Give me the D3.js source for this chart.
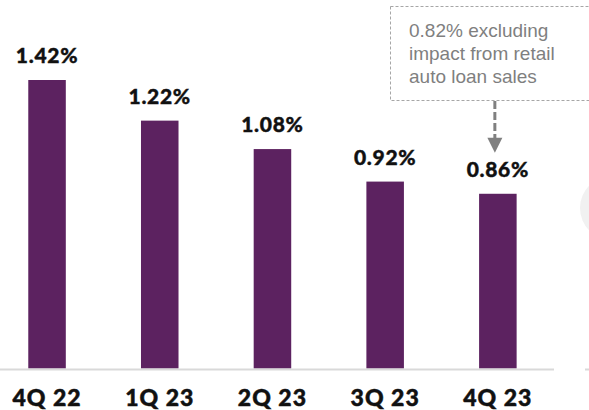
<!DOCTYPE html>
<html>
<head>
<meta charset="utf-8">
<script src="https://cdn.jsdelivr.net/npm/d3@7"></script>
<style>
  html, body { margin: 0; padding: 0; background: #fff; }
  svg { display: block; }
</style>
</head>
<body>
<svg id="chart" width="589" height="410"></svg>
<script>
// Quarterly ratio values
const quarters = ["4Q 22", "1Q 23", "2Q 23", "3Q 23", "4Q 23"];
const values = [1.42, 1.22, 1.08, 0.92, 0.86];
const valueLabels = ["1.42%", "1.22%", "1.08%", "0.92%", "0.86%"];
const noteLines = ["0.82% excluding", "impact from retail", "auto loan sales"];
const noteQuarter = "4Q 23";

const baseY = 368.5;

const svg = d3.select("#chart");

const x = d3.scaleBand()
  .domain(quarters)
  .range([0.1, 544.8])
  .paddingInner(0.667)
  .paddingOuter(0.25);

const y = d3.scaleLinear()
  .domain([0, 1.42])
  .range([baseY, 80]);

// faint decoration at the right edge
svg.append("circle")
  .attr("cx", 612).attr("cy", 208).attr("r", 32)
  .attr("fill", "#f1f1f1");

// bars
svg.selectAll("rect.bar")
  .data(values)
  .join("rect")
  .attr("class", "bar")
  .attr("x", (d, i) => x(quarters[i]))
  .attr("width", x.bandwidth())
  .attr("y", d => y(d))
  .attr("height", d => y(0) - y(d))
  .attr("fill", "#5c2260");

// baseline
svg.append("line")
  .attr("x1", 0).attr("x2", 554)
  .attr("y1", y(0) + 1).attr("y2", y(0) + 1)
  .attr("stroke", "#d9d9d9").attr("stroke-width", 2);
svg.append("line")
  .attr("x1", 585).attr("x2", 592)
  .attr("y1", y(0) + 1).attr("y2", y(0) + 1)
  .attr("stroke", "#d9d9d9").attr("stroke-width", 2);

// category axis
const axis = svg.append("g")
  .attr("transform", `translate(0,${y(0)})`)
  .call(d3.axisBottom(x).tickSize(0));
axis.select(".domain").remove();
axis.selectAll("text")
  .attr("y", 37)
  .attr("dy", 0)
  .attr("fill", "#111")
  .attr("stroke", "#111")
  .attr("stroke-width", 0.5)
  .style("font-family", "Lato, 'Open Sans', sans-serif")
  .style("font-weight", 900)
  .style("font-size", "23px")
  .style("letter-spacing", "1px");

// value labels
svg.selectAll("text.val")
  .data(values)
  .join("text")
  .attr("class", "val")
  .attr("x", (d, i) => x(quarters[i]) + x.bandwidth() / 2)
  .attr("y", d => y(d) - 17)
  .attr("text-anchor", "middle")
  .attr("fill", "#111")
  .attr("stroke", "#111")
  .attr("stroke-width", 0.4)
  .style("font-family", "Lato, 'Open Sans', sans-serif")
  .style("font-weight", 900)
  .style("font-size", "21px")
  .style("letter-spacing", "0.7px")
  .text((d, i) => valueLabels[i]);

// note box with dashed border
const note = svg.append("g");
note.append("rect")
  .attr("x", 390.5).attr("y", 6.5)
  .attr("width", 210).attr("height", 94)
  .attr("fill", "none")
  .attr("stroke", "#a6a6a6")
  .attr("stroke-width", 1)
  .attr("stroke-dasharray", "3,2");

note.selectAll("text")
  .data(noteLines)
  .join("text")
  .attr("x", 409)
  .attr("y", (d, i) => 37 + i * 23.2)
  .attr("fill", "#7f7f7f")
  .style("font-family", "'Liberation Sans', Arial, sans-serif")
  .style("font-size", "19px")
  .text(d => d);

// dashed arrow pointing at the last bar
const ax = x(noteQuarter) + x.bandwidth() / 2 - 3;
const tipY = y(values[quarters.indexOf(noteQuarter)]) - 41;
note.append("line")
  .attr("x1", ax).attr("x2", ax)
  .attr("y1", 101).attr("y2", tipY - 14)
  .attr("stroke", "#808080")
  .attr("stroke-width", 3)
  .attr("stroke-dasharray", "8,3");
note.append("path")
  .attr("d", `M${ax - 7.5},${tipY - 15} L${ax + 7.5},${tipY - 15} L${ax},${tipY} Z`)
  .attr("fill", "#808080");
</script>
</body>
</html>
